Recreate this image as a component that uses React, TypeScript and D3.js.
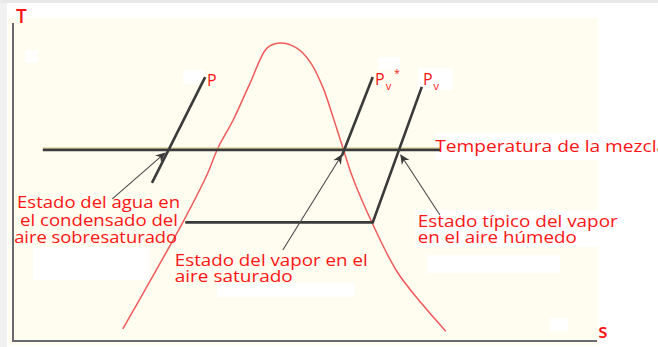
import { useEffect, useRef } from "react";
import * as d3 from "d3";

// T-s diagram of moist air: dome of saturation and isobars (units: 0..100 on both axes)
const domeS = [18.8, 22.4, 29.1, 33.2, 35.1, 37.7, 40.6, 43.5, 45.7, 48.6, 50.9, 53.1, 54.8, 56.5, 58.0, 61.5, 65.8, 70.2, 74.1];
const domeT = [3.8, 15.4, 37.4, 52.2, 60.7, 69.5, 81.1, 92.1, 93.7, 92.1, 87.7, 79.6, 70.4, 60.7, 52.2, 37.1, 21.7, 11.3, 3.1];

const mixtureT = 60.1;
const mixtureS = [5.1, 73.1];

const isobarPS = [32.9, 23.8];
const isobarPT = [83.0, 49.7];
const isobarPvSatS = [61.6, 56.3];
const isobarPvSatT = [83.0, 58.2];
const isobarPvS = [70.0, 61.6, 29.5];
const isobarPvT = [79.9, 37.3, 37.3];

// arrows from the notes to the states on the mixture temperature
const arrowTailS = [17.0, 46.2, 73.1];
const arrowTailT = [44.7, 28.6, 39.6];
const arrowHeadS = [26.0, 56.3, 66.4];
const arrowHeadT = [59.1, 58.5, 58.5];

const notes = [
  { lines: ["Estado del agua en", "el condensado del", "aire sobresaturado"], s: [0.7, 1.2, 0.2], T: [41.8, 36.2, 30.8], w: [163, 158, 163] },
  { lines: ["Estado del vapor en el", "aire saturado"], s: [27.7, 27.7], T: [23.6, 18.6], w: [193, 118] },
  { lines: ["Estado típico del vapor", "en el aire húmedo"], s: [69.3, 69.3], T: [35.8, 30.8], w: [200, 159] },
  { lines: ["Temperatura de la mezcla"], s: [72.3], T: [59.4], w: [232] },
];

const W = 658;
const H = 347;
const RED = "#ff1414";
const INK = "#3a3a3a";

export default function App() {
  const ref = useRef<SVGSVGElement>(null);

  useEffect(() => {
    const svg = d3.select(ref.current);
    svg.selectAll("*").remove();

    const x = d3.scaleLinear().domain([0, 100]).range([13, 597]);
    const y = d3.scaleLinear().domain([0, 100]).range([341, 23]);

    // background pieces of the scanned figure
    svg.append("rect").attr("width", W).attr("height", H).attr("fill", "#fff");
    svg.append("rect").attr("width", W).attr("height", 3).attr("fill", "#e8e8e8");
    svg.append("rect").attr("y", 3).attr("width", 7).attr("height", H).attr("fill", "#f1f1f1");
    svg.append("rect").attr("x", 8).attr("y", 18).attr("width", 590).attr("height", 327).attr("fill", "#fffdf0");
    const patches = [
      [25, 50, 13, 13], [183, 70, 22, 14], [378, 57, 22, 13], [418, 68, 35, 22],
      [435, 133, 223, 27], [33, 247, 117, 33], [217, 283, 138, 14],
      [415, 210, 205, 37], [427, 255, 133, 18], [550, 318, 18, 13],
    ];
    svg.selectAll("rect.patch").data(patches).join("rect")
      .attr("x", (d) => d[0]).attr("y", (d) => d[1])
      .attr("width", (d) => d[2]).attr("height", (d) => d[3])
      .attr("fill", "#fff");

    const defs = svg.append("defs");
    defs.append("marker")
      .attr("id", "head").attr("viewBox", "0 0 10 10")
      .attr("refX", 9).attr("refY", 5)
      .attr("markerWidth", 10).attr("markerHeight", 10)
      .attr("markerUnits", "userSpaceOnUse")
      .attr("orient", "auto")
      .append("path").attr("d", "M0,0.5 L10,5 L0,9.5 L3,5 Z").attr("fill", INK);

    // axes
    svg.append("line")
      .attr("x1", x(0)).attr("x2", x(0)).attr("y1", y(0)).attr("y2", y(100))
      .attr("stroke", "#6a6a70").attr("stroke-width", 2);
    svg.append("line")
      .attr("x1", x(0) - 1).attr("x2", x(100)).attr("y1", y(0)).attr("y2", y(0))
      .attr("stroke", "#6a6a74").attr("stroke-width", 2);

    // dome
    const pts = domeS.map((s, i) => [s, domeT[i]] as [number, number]);
    const curve = d3.line<[number, number]>()
      .x((d) => x(d[0])).y((d) => y(d[1]))
      .curve(d3.curveCatmullRom.alpha(0.5));
    svg.append("path").attr("d", curve(pts)).attr("fill", "none")
      .attr("stroke", "#f05a5a").attr("stroke-width", 1.5);

    // mixture temperature
    svg.append("line")
      .attr("x1", x(mixtureS[0])).attr("x2", x(mixtureS[1]))
      .attr("y1", y(mixtureT) - 2).attr("y2", y(mixtureT) - 2)
      .attr("stroke", "#d8c76a").attr("stroke-width", 1).attr("opacity", 0.8);
    svg.append("line")
      .attr("x1", x(mixtureS[0])).attr("x2", x(mixtureS[1]))
      .attr("y1", y(mixtureT)).attr("y2", y(mixtureT))
      .attr("stroke", INK).attr("stroke-width", 2.6);

    // isobars
    const poly = d3.line<[number, number]>().x((d) => x(d[0])).y((d) => y(d[1]));
    const isobars: [number[], number[]][] = [
      [isobarPS, isobarPT], [isobarPvSatS, isobarPvSatT], [isobarPvS, isobarPvT],
    ];
    isobars.forEach(([ss, tt]) => {
      svg.append("path")
        .attr("d", poly(ss.map((s, i) => [s, tt[i]] as [number, number])))
        .attr("fill", "none").attr("stroke", INK).attr("stroke-width", 2.6)
        .attr("stroke-linejoin", "miter");
    });

    // arrows
    arrowTailS.forEach((s, i) => {
      svg.append("line")
        .attr("x1", x(s)).attr("y1", y(arrowTailT[i]))
        .attr("x2", x(arrowHeadS[i])).attr("y2", y(arrowHeadT[i]))
        .attr("stroke", "#4a4a4a").attr("stroke-width", 1.1)
        .attr("marker-end", "url(#head)");
    });

    const font = "'Open Sans', 'Noto Sans', sans-serif";

    // notes
    notes.forEach((n) => {
      n.lines.forEach((t, i) => {
        svg.append("text")
          .attr("x", x(n.s[i])).attr("y", y(n.T[i]))
          .attr("font-family", font).attr("font-size", 17)
          .attr("fill", RED)
          .attr("textLength", n.w[i]).attr("lengthAdjust", "spacingAndGlyphs")
          .text(t);
      });
    });

    // axis names
    svg.append("text").attr("x", x(0.5)).attr("y", y(100))
      .attr("font-family", font).attr("font-size", 19).attr("font-weight", 600)
      .attr("fill", RED).text("T");
    svg.append("text").attr("x", x(100.2)).attr("y", y(0.9))
      .attr("font-family", font).attr("font-size", 19).attr("font-weight", 600)
      .attr("fill", RED).text("s");

    // isobar names
    svg.append("text").attr("x", x(33.2)).attr("y", y(80.2))
      .attr("font-family", font).attr("font-size", 16).attr("fill", RED).text("P");

    const pvSat = svg.append("text").attr("x", x(62.0)).attr("y", y(80.5))
      .attr("font-family", font).attr("font-size", 16).attr("fill", RED);
    pvSat.append("tspan").text("P");
    pvSat.append("tspan").attr("font-size", 11).attr("dy", 5).attr("dx", 1).text("v");
    pvSat.append("tspan").attr("font-size", 10).attr("dy", -13).attr("dx", 3).text("*");

    const pv = svg.append("text").attr("x", x(70.2)).attr("y", y(80.5))
      .attr("font-family", font).attr("font-size", 16).attr("fill", RED);
    pv.append("tspan").text("P");
    pv.append("tspan").attr("font-size", 11).attr("dy", 5).attr("dx", 1).text("v");
  }, []);

  return (
    <svg
      ref={ref}
      width={W}
      height={H}
      style={{ position: "absolute", left: 0, top: 0, display: "block" }}
    />
  );
}
